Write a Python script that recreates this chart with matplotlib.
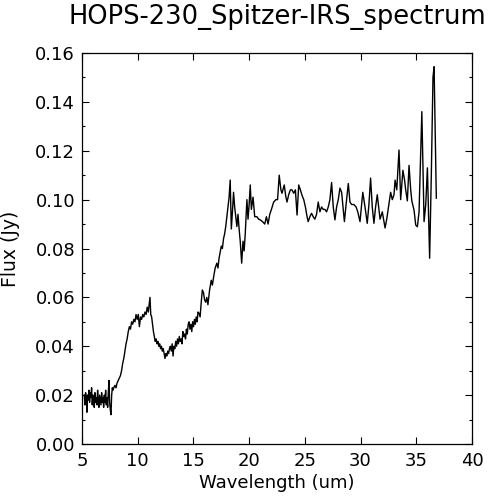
import matplotlib
matplotlib.use("Agg")
import matplotlib.pyplot as plt
from matplotlib.ticker import MultipleLocator

plt.rcParams['font.family'] = ['DejaVu Sans']

# spectrum
wavelength = [
    5.20, 5.26, 5.32, 5.38, 5.44, 5.50, 5.56, 5.62, 5.68, 5.74,
    5.80, 5.86, 5.92, 5.98, 6.04, 6.10, 6.16, 6.22, 6.28, 6.34,
    6.40, 6.46, 6.52, 6.58, 6.64, 6.70, 6.76, 6.82, 6.88, 6.94,
    7.00, 7.06, 7.12, 7.18, 7.24, 7.30, 7.36, 7.42, 7.48, 7.54,
    7.60, 7.66, 7.72, 7.78, 7.85, 7.95, 8.05, 8.15, 8.25, 8.35,
    8.45, 8.55, 8.65, 8.75, 8.85, 8.95, 9.05, 9.15, 9.25, 9.35,
    9.45, 9.55, 9.65, 9.75, 9.85, 9.95, 10.05, 10.15, 10.25, 10.35,
    10.45, 10.55, 10.65, 10.75, 10.85, 10.95, 11.03, 11.10, 11.17, 11.25,
    11.33, 11.41, 11.49, 11.57, 11.65, 11.73, 11.81, 11.89, 11.97, 12.05,
    12.13, 12.21, 12.29, 12.37, 12.45, 12.53, 12.61, 12.69, 12.77, 12.85,
    12.93, 13.01, 13.09, 13.17, 13.25, 13.33, 13.41, 13.49, 13.57, 13.65,
    13.73, 13.81, 13.89, 13.97, 14.05, 14.13, 14.21, 14.29, 14.37, 14.45,
    14.53, 14.61, 14.69, 14.77, 14.85, 14.93, 15.01, 15.09, 15.17, 15.25,
    15.33, 15.41, 15.50, 15.60, 15.70, 15.80, 15.90, 16.00, 16.10, 16.20,
    16.30, 16.45, 16.60, 16.70, 16.80, 16.95, 17.10, 17.20, 17.30, 17.50,
    17.60, 17.70, 17.80, 17.90, 18.00, 18.10, 18.20, 18.30, 18.40, 18.50,
    18.60, 18.70, 18.80, 18.90, 19.00, 19.10, 19.20, 19.33, 19.45, 19.55,
    19.65, 19.80, 19.90, 20.00, 20.10, 20.20, 20.35, 20.50, 20.70, 20.85,
    21.00, 21.20, 21.40, 21.55, 21.70, 21.85, 22.00, 22.20, 22.40, 22.55,
    22.70, 22.85, 22.95, 23.15, 23.30, 23.40, 23.55, 23.70, 23.85, 24.00,
    24.15, 24.30, 24.45, 24.60, 24.75, 24.90, 25.05, 25.20, 25.30, 25.45,
    25.60, 25.75, 25.90, 26.05, 26.20, 26.35, 26.50, 26.65, 26.80, 26.95,
    27.10, 27.25, 27.40, 27.55, 27.70, 27.85, 28.00, 28.15, 28.30, 28.55,
    28.70, 28.90, 29.05, 29.20, 29.40, 29.60, 29.75, 29.95, 30.20, 30.40,
    30.60, 30.75, 30.90, 31.05, 31.20, 31.35, 31.50, 31.65, 31.75, 31.95,
    32.20, 32.35, 32.50, 32.70, 32.85, 33.00, 33.10, 33.25, 33.45, 33.60,
    33.80, 33.95, 34.05, 34.20, 34.35, 34.50, 34.60, 34.80, 34.95, 35.10,
    35.25, 35.50, 35.70, 35.85, 36.00, 36.20, 36.35, 36.50, 36.60, 36.80,
]
flux = [
    0.020, 0.016, 0.021, 0.019, 0.013, 0.020, 0.018, 0.022, 0.017, 0.021,
    0.019, 0.023, 0.016, 0.020, 0.018, 0.015, 0.021, 0.017, 0.019, 0.016,
    0.022, 0.017, 0.015, 0.020, 0.018, 0.016, 0.021, 0.017, 0.019, 0.015,
    0.020, 0.017, 0.022, 0.016, 0.019, 0.015, 0.021, 0.026, 0.017, 0.014,
    0.012, 0.020, 0.023, 0.022, 0.023, 0.024, 0.023, 0.025, 0.026, 0.027,
    0.028, 0.030, 0.033, 0.035, 0.038, 0.041, 0.043, 0.046, 0.048, 0.047,
    0.050, 0.049, 0.051, 0.050, 0.053, 0.051, 0.053, 0.048, 0.052, 0.051,
    0.053, 0.052, 0.054, 0.053, 0.056, 0.054, 0.057, 0.060, 0.053, 0.052,
    0.049, 0.046, 0.044, 0.042, 0.043, 0.041, 0.042, 0.040, 0.041, 0.039,
    0.040, 0.038, 0.039, 0.037, 0.035, 0.037, 0.036, 0.038, 0.037, 0.039,
    0.040, 0.038, 0.041, 0.036, 0.040, 0.039, 0.042, 0.040, 0.043, 0.041,
    0.044, 0.042, 0.043, 0.041, 0.046, 0.044, 0.045, 0.043, 0.047, 0.045,
    0.049, 0.050, 0.047, 0.049, 0.046, 0.050, 0.048, 0.051, 0.049, 0.052,
    0.050, 0.054, 0.0535, 0.052, 0.058, 0.063, 0.062, 0.059, 0.058, 0.060,
    0.057, 0.063, 0.067, 0.065, 0.068, 0.072, 0.074, 0.072, 0.076, 0.081,
    0.080, 0.084, 0.086, 0.089, 0.093, 0.097, 0.101, 0.108, 0.088, 0.095,
    0.103, 0.097, 0.093, 0.089, 0.094, 0.088, 0.083, 0.074, 0.083, 0.079,
    0.086, 0.100, 0.092, 0.098, 0.106, 0.096, 0.101, 0.093, 0.093, 0.092,
    0.0917, 0.091, 0.090, 0.093, 0.090, 0.094, 0.096, 0.099, 0.100, 0.100,
    0.110, 0.104, 0.1026, 0.106, 0.101, 0.099, 0.102, 0.104, 0.104, 0.1026,
    0.104, 0.0937, 0.106, 0.104, 0.1017, 0.100, 0.097, 0.093, 0.091, 0.093,
    0.0944, 0.093, 0.092, 0.094, 0.099, 0.095, 0.097, 0.096, 0.096, 0.095,
    0.097, 0.100, 0.107, 0.097, 0.0917, 0.097, 0.100, 0.1047, 0.103, 0.091,
    0.098, 0.1066, 0.099, 0.098, 0.098, 0.097, 0.095, 0.091, 0.103, 0.097,
    0.0903, 0.098, 0.1088, 0.097, 0.0903, 0.097, 0.102, 0.096, 0.092, 0.095,
    0.0884, 0.092, 0.0966, 0.103, 0.100, 0.102, 0.108, 0.104, 0.1203, 0.100,
    0.112, 0.108, 0.104, 0.0995, 0.114, 0.104, 0.0995, 0.0957, 0.0896, 0.0889,
    0.095, 0.136, 0.091, 0.098, 0.113, 0.076, 0.110, 0.150, 0.1544, 0.1006,
]

title = "HOPS-230_Spitzer-IRS_spectrum"

fig = plt.figure(figsize=(4.92, 5.00), dpi=100)
ax = fig.add_axes([0.1667, 0.112, 0.7926, 0.782])

ax.plot(wavelength, flux, color="black", lw=1.0)

ax.set_xlim(5, 40)
ax.set_ylim(0, 0.16)
ax.xaxis.set_major_locator(MultipleLocator(5))
ax.yaxis.set_major_locator(MultipleLocator(0.02))
ax.yaxis.set_minor_locator(MultipleLocator(0.01))
ax.yaxis.set_major_formatter(plt.FormatStrFormatter("%.2f"))

ax.tick_params(which="both", direction="in", top=True, right=True, labelsize=13)
ax.tick_params(which="major", length=5, width=0.8)
ax.tick_params(which="minor", length=2.5, width=0.8)
ax.tick_params(axis="x", pad=6)
ax.tick_params(axis="y", pad=5)
for s in ax.spines.values():
    s.set_linewidth(0.9)

ax.set_xlabel("Wavelength (um)", fontsize=13, labelpad=3)
ax.set_ylabel("Flux (Jy)", fontsize=13.5, labelpad=11)
ax.set_title(title, fontsize=18.5, pad=21)

plt.savefig("out.png", dpi=100)
